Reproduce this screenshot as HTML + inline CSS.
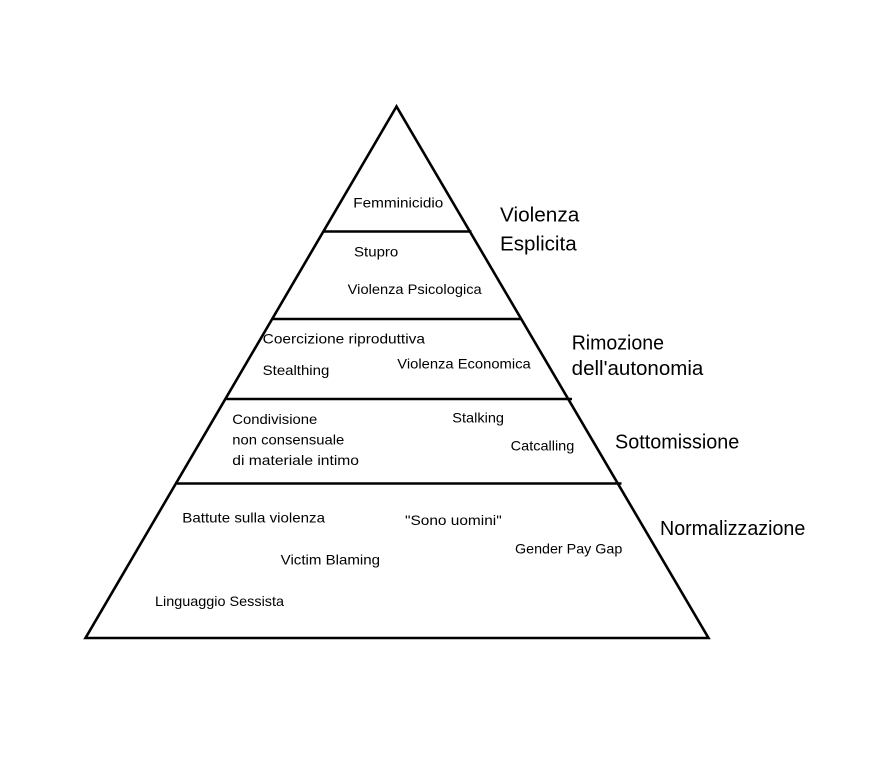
<!DOCTYPE html>
<html>
<head>
<meta charset="utf-8">
<style>
html,body{margin:0;padding:0;background:#fff;}
svg{display:block;}
text{font-family:"Liberation Sans",Arial,sans-serif;fill:#000;}
.s{font-size:14px;}
.b{font-size:20px;}
</style>
</head>
<body>
<svg width="890" height="768" viewBox="0 0 890 768" xmlns="http://www.w3.org/2000/svg">
<rect width="890" height="768" fill="#fff"/>
<g stroke="#000" stroke-width="2.6" fill="none" stroke-linejoin="miter" stroke-linecap="butt">
<polygon points="396.5,106.5 85.5,638 708.5,638"/>
<line x1="324" y1="231.5" x2="471.5" y2="231.5"/>
<line x1="273" y1="319" x2="520.5" y2="319"/>
<line x1="226.5" y1="399" x2="572" y2="399"/>
<line x1="177" y1="483.5" x2="621.5" y2="483.5"/>
</g>
<g class="s">
<text x="353.3" y="207.3" textLength="90" lengthAdjust="spacingAndGlyphs">Femminicidio</text>
<text x="354" y="256.7" textLength="44.3" lengthAdjust="spacingAndGlyphs">Stupro</text>
<text x="347.7" y="294" textLength="134" lengthAdjust="spacingAndGlyphs">Violenza Psicologica</text>
<text x="262.7" y="343.3" textLength="162.3" lengthAdjust="spacingAndGlyphs">Coercizione riproduttiva</text>
<text x="262.7" y="375" textLength="66.6" lengthAdjust="spacingAndGlyphs">Stealthing</text>
<text x="397.3" y="368.3" textLength="133.4" lengthAdjust="spacingAndGlyphs">Violenza Economica</text>
<text x="232.3" y="424" textLength="85" lengthAdjust="spacingAndGlyphs">Condivisione</text>
<text x="232.3" y="444.3" textLength="112" lengthAdjust="spacingAndGlyphs">non consensuale</text>
<text x="232.3" y="465" textLength="126.7" lengthAdjust="spacingAndGlyphs">di materiale intimo</text>
<text x="452.3" y="422.3" textLength="51.7" lengthAdjust="spacingAndGlyphs">Stalking</text>
<text x="510.7" y="450.7" textLength="63.6" lengthAdjust="spacingAndGlyphs">Catcalling</text>
<text x="182.3" y="522.7" textLength="142.7" lengthAdjust="spacingAndGlyphs">Battute sulla violenza</text>
<text x="405" y="525" textLength="96.7" lengthAdjust="spacingAndGlyphs">"Sono uomini"</text>
<text x="280.7" y="564.3" textLength="99.3" lengthAdjust="spacingAndGlyphs">Victim Blaming</text>
<text x="515" y="553.3" textLength="107.3" lengthAdjust="spacingAndGlyphs">Gender Pay Gap</text>
<text x="155" y="606" textLength="129" lengthAdjust="spacingAndGlyphs">Linguaggio Sessista</text>
</g>
<g class="b">
<text x="500" y="221.7" textLength="79.3" lengthAdjust="spacingAndGlyphs">Violenza</text>
<text x="500" y="250.7" textLength="76.7" lengthAdjust="spacingAndGlyphs">Esplicita</text>
<text x="571.7" y="349.3" textLength="92.3" lengthAdjust="spacingAndGlyphs">Rimozione</text>
<text x="571.7" y="375" textLength="131.6" lengthAdjust="spacingAndGlyphs">dell'autonomia</text>
<text x="615" y="448.3" textLength="124.3" lengthAdjust="spacingAndGlyphs">Sottomissione</text>
<text x="660" y="535" textLength="145.3" lengthAdjust="spacingAndGlyphs">Normalizzazione</text>
</g>
</svg>
</body>
</html>
